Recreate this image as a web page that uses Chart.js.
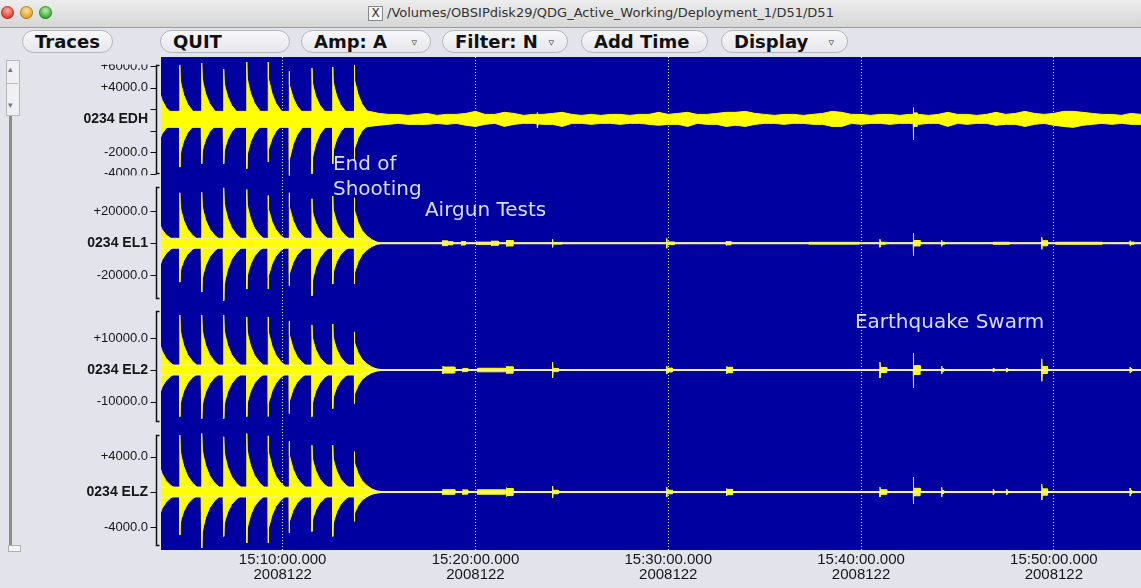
<!DOCTYPE html>
<html>
<head>
<meta charset="utf-8">
<title>D51 traces</title>
<script src="https://cdn.jsdelivr.net/npm/chart.js@4.4.0/dist/chart.umd.min.js"></script>
<style>
  html, body { margin: 0; padding: 0; }
  body { width: 1141px; height: 588px; overflow: hidden; position: relative; background: #e3e3ec; font-family: "DejaVu Sans", sans-serif; }
  #titlebar { position: absolute; left: 0; top: 0; width: 1141px; height: 27px; background: linear-gradient(#ededed, #d6d6d6); border-bottom: 1px solid #9c9c9c; }
  .light { position: absolute; top: 6px; width: 13px; height: 13px; border-radius: 50%; box-shadow: inset 0 0 0 1px rgba(0,0,0,.25); }
  #title { position: absolute; left: 368px; top: 5px; font-size: 13px; color: #333; white-space: nowrap; }
  .xicon { display: inline-block; width: 13px; height: 13px; line-height: 13px; border: 1px solid #888; font-size: 12px; text-align: center; margin-right: 4px; background: #f4f4f4; }
  .btn { position: absolute; top: 30px; height: 23px; box-sizing: border-box; border: 1px solid #b4b4bc; border-radius: 12px; background: linear-gradient(#f8f8fa, #e6e6ec); font-weight: bold; font-size: 18px; line-height: 21px; padding-left: 12px; color: #111; white-space: nowrap; }
  .btn .tri { position: absolute; right: 13px; top: 1px; font-size: 11px; font-weight: normal; color: #333; }
  .sc { position: absolute; }
  #plot { position: absolute; left: 0; top: 55px; }
</style>
</head>
<body>
<div id="titlebar">
  <span class="light" style="left:1px;background:radial-gradient(circle at 50% 35%,#ffaaa0,#dc3a30 70%)"></span>
  <span class="light" style="left:20px;background:radial-gradient(circle at 50% 35%,#ffe0a0,#e0a020 70%)"></span>
  <span class="light" style="left:39px;background:radial-gradient(circle at 50% 35%,#b8f0a8,#2eaa2a 70%)"></span>
  <div id="title"><span class="xicon">X</span>/Volumes/OBSIPdisk29/QDG_Active_Working/Deployment_1/D51/D51</div>
</div>
<div class="btn" style="left:22px;width:91px">Traces</div>
<div class="btn" style="left:160px;width:130px">QUIT</div>
<div class="btn" style="left:301px;width:130px">Amp: A<span class="tri">▿</span></div>
<div class="btn" style="left:442px;width:126px">Filter: N<span class="tri">▿</span></div>
<div class="btn" style="left:581px;width:127px">Add Time</div>
<div class="btn" style="left:721px;width:127px">Display<span class="tri">▿</span></div>

<div class="sc" style="left:6px;top:60px;width:12px;height:54px;border:1px solid #b8b8c0;background:#f0f0f4"></div>
<div class="sc" style="left:6px;top:83px;width:12px;height:1px;background:#b8b8c0"></div>
<div class="sc" style="left:8px;top:64px;font-size:9px;color:#777">▴</div>
<div class="sc" style="left:8px;top:100px;font-size:9px;color:#777">▾</div>
<div class="sc" style="left:9px;top:116px;width:3px;height:430px;background:#8c8c8c"></div>
<div class="sc" style="left:8px;top:545px;width:11px;height:5px;background:#f4f4f4;border:1px solid #b0b0b0"></div>

<canvas id="plot" width="1141" height="533"></canvas>

<script>
// ---- data (time = minutes after 15:00, 2008122)
const traceNames = ["0234 EDH", "0234 EL1", "0234 EL2", "0234 ELZ"];
const timeTicks = [10, 20, 30, 40, 50];
const timeTickLabels = ["15:10:00.000", "15:20:00.000", "15:30:00.000", "15:40:00.000", "15:50:00.000"];
const dayLabel = "2008122";

// y ticks per trace (labels as printed)
const tickValues = [[6000, 4000, 2000, 0, -2000, -4000], [20000, 0, -20000], [10000, 0, -10000], [4000, 0, -4000]];
const tickText = [["+6000.0", "+4000.0", "", "", "-2000.0", "-4000.0"], ["+20000.0", "", "-20000.0"], ["+10000.0", "", "-10000.0"], ["+4000.0", "", "-4000.0"]];
const labelValues = [1050, 0, 0, 0];     // where the channel name sits
const traceCenter = [1050, 0, 0, 0];     // trace baseline (counts)

// airgun shots (first one is just left of the window)
const shotTimes = [3.55, 4.67, 5.81, 6.95, 8.14, 9.25, 10.34, 11.52, 12.60, 13.72];
const edhShotHigh = [5000, 6085, 6270, 5710, 6366, 6366, 5520, 5800, 5900, 6085];
const edhShotLow  = [-1900, -3370, -3050, -3050, -3520, -2900, -4150, -3990, -3050, -2740];
const el1ShotHigh = [19000, 31690, 32060, 34810, 33750, 30000, 31690, 27940, 29560, 28560];
const el1ShotLow  = [-23000, -24375, -30625, -36060, -28750, -28750, -26690, -32940, -25625, -25625];
const el2ShotHigh = [13200, 17280, 17280, 17280, 16660, 16660, 15410, 14160, 14470, 11970];
const el2ShotLow  = [-11800, -14600, -15220, -15220, -14600, -14600, -13660, -14600, -12100, -10530];
const elzShotHigh = [4600, 6435, 6627, 6255, 6627, 6368, 5759, 5308, 5308, 4564];
const elzShotLow  = [-4100, -4835, -6334, -5015, -5770, -5770, -4643, -4452, -5015, -3325];
// shape of one shot: minutes after the shot, fraction of the peak
const decayOffsets = [0, 0.025, 0.08, 0.2, 0.4, 0.65, 0.9, 1.1];
const decayRatios  = [1, 0.72, 0.62, 0.45, 0.28, 0.16, 0.08, 0.04];

// background noise half-width (counts)
const edhNoiseTimes = [3.69, 13.9, 14.0, 14.5, 15.0, 15.5, 16.0, 16.5, 17.0, 17.5, 18.0, 18.5, 19.0, 19.5, 20.0, 20.5, 21.0, 21.5, 22.0, 22.5, 23.0, 23.5, 24.0, 24.5, 25.0, 25.5, 26.0, 26.5, 27.0, 27.5, 28.0, 28.5, 29.0, 29.5, 30.0, 30.5, 31.0, 31.5, 32.0, 32.5, 33.0, 33.5, 34.0, 34.5, 35.0, 35.5, 36.0, 36.5, 37.0, 37.5, 38.0, 38.5, 39.0, 39.5, 40.0, 40.5, 41.0, 41.5, 42.0, 42.5, 43.0, 43.5, 44.0, 44.5, 45.0, 45.5, 46.0, 46.5, 47.0, 47.5, 48.0, 48.5, 49.0, 49.5, 50.0, 50.5, 51.0, 51.5, 52.0, 52.5, 53.0, 53.5, 54.0, 54.52];
const edhNoiseHigh = [740, 740, 830, 740, 550, 460, 460, 370, 460, 550, 370, 460, 460, 550, 740, 460, 460, 650, 550, 370, 460, 460, 550, 650, 460, 370, 460, 370, 460, 460, 370, 460, 460, 650, 460, 550, 650, 460, 460, 550, 650, 650, 740, 550, 460, 370, 460, 460, 370, 460, 550, 740, 650, 460, 460, 370, 460, 460, 370, 460, 460, 370, 460, 650, 460, 460, 370, 460, 650, 460, 550, 740, 550, 460, 550, 740, 740, 650, 550, 460, 460, 370, 550, 460];
const edhNoiseLow  = [740, 740, 830, 650, 550, 460, 370, 460, 460, 460, 370, 460, 370, 550, 650, 460, 370, 650, 460, 370, 370, 460, 460, 650, 370, 370, 460, 370, 370, 460, 370, 370, 460, 550, 460, 460, 650, 370, 460, 460, 650, 550, 650, 460, 370, 370, 460, 370, 370, 460, 460, 650, 650, 370, 460, 370, 370, 460, 370, 370, 460, 370, 370, 650, 370, 460, 370, 370, 550, 460, 460, 650, 460, 370, 550, 650, 740, 550, 460, 370, 460, 370, 460, 460];
const elNoiseTimes = [3.69, 13.9, 14.5, 15.1, 54.52];
const el1Noise = [3100, 3100, 1300, 320, 320];
const el2Noise = [1560, 1560, 650, 160, 160];
const elzNoise = [560, 560, 240, 60, 60];

// small events: [time, peak high, peak low, duration, tail high, tail low]
const edhEvents = [[23.2, 1700, 250, 0.05, 1500, 500], [42.71, 2150, -850, 0.2, 1650, 400]];
const el1Events = [[18.28, 1700, -1700, 0.28, 1500, -1500], [18.62, 1100, -1100, 0.2, 1000, -1000], [19.28, 1250, -1250, 0.2, 1100, -1100], [20.05, 1000, -1000, 0.75, 700, -700], [20.84, 1500, -1500, 0.35, 1300, -1300], [21.6, 2000, -2000, 0.35, 1700, -1700], [24.0, 2500, -2500, 0.5, 500, -500], [29.92, 3100, -3100, 0.4, 800, -800], [33.0, 1400, -1400, 0.25, 1000, -1000], [37.3, 550, -550, 2.6, 550, -550], [40.98, 2500, -2500, 0.3, 600, -600], [42.71, 6250, -7900, 0.35, 1700, -1700], [44.18, 1900, -1900, 0.15, 600, -600], [46.85, 700, -700, 0.85, 600, -600], [49.37, 3750, -3750, 0.3, 1600, -1600], [50.1, 600, -600, 2.4, 600, -600], [53.95, 1500, -1500, 0.2, 700, -700]];
const el2Events = [[18.31, 1250, -1250, 0.62, 950, -950], [19.35, 650, -650, 0.25, 500, -500], [20.1, 650, -650, 1.45, 550, -550], [21.6, 1250, -1250, 0.35, 1000, -1000], [24.0, 2500, -2500, 0.3, 500, -500], [29.92, 1250, -1250, 0.3, 600, -600], [33.03, 1150, -1150, 0.3, 850, -850], [40.98, 2500, -2500, 0.35, 800, -800], [42.71, 5300, -5600, 0.35, 1400, -1400], [44.18, 1250, -1250, 0.1, 450, -450], [46.85, 650, -650, 0.05, 450, -450], [47.55, 650, -650, 0.05, 450, -450], [49.37, 3500, -3500, 0.3, 1100, -1100], [53.95, 900, -900, 0.1, 450, -450]];
const elzEvents = [[18.31, 340, -340, 0.62, 260, -260], [19.35, 300, -300, 0.25, 240, -240], [20.1, 300, -300, 1.45, 250, -250], [21.6, 500, -500, 0.35, 400, -400], [24.0, 680, -680, 0.3, 200, -200], [29.92, 560, -560, 0.3, 200, -200], [33.03, 400, -400, 0.3, 300, -300], [40.98, 560, -560, 0.35, 260, -260], [42.71, 1690, -1350, 0.35, 420, -420], [44.18, 560, -560, 0.1, 180, -180], [46.85, 340, -340, 0.05, 180, -180], [47.55, 340, -340, 0.05, 180, -180], [49.37, 900, -900, 0.3, 360, -360], [53.95, 450, -450, 0.1, 180, -180]];

// notes written on the record: [text, time, trace, counts]
const notes = [["End of", 12.61, 0, -3140], ["Shooting", 12.61, 1, 33750], ["Airgun Tests", 17.38, 1, 20600], ["Earthquake Swarm", 39.68, 2, 14780]];

// ---- layout of the stacked trace panels
const timeWindow = [3.69, 54.52];
const axisMin = [-4569, -40310, -18344, -6559];
const axisMax = [6830, 39690, 19625, 7190];
const panelWeight = [123.5, 128, 121.5, 122];
const bracketTop = [6090, 35600, 18625, 6435];
const bracketBottom = [-3900, -34560, -16060, -5960];

const YELLOW = "#ffff00", PALE = "#f2f2a6", BLUE = "#0000a0", PANEL = "#e3e3ec";
Chart.defaults.font.family = "'Liberation Sans', Arial, sans-serif";

function noiseLine(times, amps, c, sign) {
  return times.map((t, i) => ({x: t, y: c + sign * amps[i]}));
}

function shotEnvelope(peaks, c) {
  const pts = [];
  shotTimes.forEach((t0, k) => {
    const next = k + 1 < shotTimes.length ? shotTimes[k + 1] : Infinity;
    pts.push({x: t0 - 0.003, y: c});
    decayOffsets.forEach((off, j) => {
      if (t0 + off < next - 0.008) pts.push({x: t0 + off, y: c + (peaks[k] - c) * decayRatios[j]});
    });
    pts.push({x: Math.min(t0 + 1.12, next - 0.005), y: c});
  });
  return pts;
}

function eventEnvelope(events, c, side) {
  const pts = [{x: timeWindow[0], y: c}];
  events.forEach(([t, hi, lo, len, tHi, tLo]) => {
    const peak = side > 0 ? hi : lo, tail = side > 0 ? tHi : tLo;
    pts.push({x: t - 0.004, y: c}, {x: t, y: peak}, {x: t + 0.025, y: tail},
             {x: t + len, y: tail}, {x: t + len + 0.004, y: c});
  });
  pts.push({x: timeWindow[1], y: c});
  return pts;
}

function traceSets(i, noiseTimes, noiseHigh, noiseLow, highs, lows, events) {
  const c = traceCenter[i];
  const base = {yAxisID: "y" + i, borderColor: YELLOW, backgroundColor: YELLOW, borderWidth: 1,
                pointRadius: 0, tension: 0, fill: {value: c}};
  const quiet = i > 0 ? PALE : YELLOW;   // the quiet channels show a thin pale line
  return [
    {...base, borderColor: quiet, data: noiseLine(noiseTimes, noiseHigh, c, 1)},
    {...base, borderColor: quiet, data: noiseLine(noiseTimes, noiseLow, c, -1)},
    {...base, data: shotEnvelope(highs, c)},
    {...base, data: shotEnvelope(lows, c)},
    {...base, data: eventEnvelope(events, c, 1)},
    {...base, data: eventEnvelope(events, c, -1)}
  ];
}

const datasets = [].concat(
  traceSets(0, edhNoiseTimes, edhNoiseHigh, edhNoiseLow, edhShotHigh, edhShotLow, edhEvents),
  traceSets(1, elNoiseTimes, el1Noise, el1Noise, el1ShotHigh, el1ShotLow, el1Events),
  traceSets(2, elNoiseTimes, el2Noise, el2Noise, el2ShotHigh, el2ShotLow, el2Events),
  traceSets(3, elNoiseTimes, elzNoise, elzNoise, elzShotHigh, elzShotLow, elzEvents)
);

function traceAxis(i) {
  return {
    type: "linear", position: "left", stack: "traces", stackWeight: panelWeight[i], weight: 4 - i,
    min: axisMin[i], max: axisMax[i], bounds: "data",
    grid: {display: false, drawTicks: false}, border: {display: false},
    afterBuildTicks: s => {
      const vals = tickValues[i].concat(tickValues[i].includes(labelValues[i]) ? [] : [labelValues[i]]);
      s.ticks = vals.sort((a, b) => a - b).map(v => ({value: v}));
    },
    afterFit: s => { s.width = 161; s.paddingTop = 0; s.paddingBottom = 0; },
    ticks: {
      autoSkip: false, padding: 13, color: "#161616",
      font: ctx => (ctx.tick && ctx.tick.value === labelValues[i])
        ? {size: 14, weight: "bold"} : {size: 13},
      callback: v => v === labelValues[i] ? traceNames[i] : tickText[i][tickValues[i].indexOf(v)]
    }
  };
}

// blue record, bracket axes and the hand notes
const seismoFrame = {
  id: "seismoFrame",
  beforeDraw(chart) {
    const {ctx, chartArea: a} = chart;
    ctx.save();
    ctx.fillStyle = BLUE;
    ctx.fillRect(a.left, a.top, a.right - a.left, a.bottom - a.top);
    ctx.restore();
  },
  afterDraw(chart) {
    const {ctx, chartArea: a} = chart;
    ctx.save();
    // the EDH panel cuts its outer labels at the bracket ends
    const s0 = chart.scales.y0;
    const yTop = s0.getPixelForValue(tickValues[0][0]);
    const yBot = s0.getPixelForValue(tickValues[0][tickValues[0].length - 1]);
    ctx.fillStyle = PANEL;
    ctx.fillRect(60, 0, a.left - 12 - 60, yTop - 1.5);
    ctx.fillRect(60, yBot + 1.5, a.left - 12 - 60, 6);

    ctx.strokeStyle = "#111";
    for (let i = 0; i < 4; i++) {
      const s = chart.scales["y" + i];
      const bx = a.left - 4.5;
      const t = Math.round(s.getPixelForValue(bracketTop[i])) + 0.5;
      const b = Math.round(s.getPixelForValue(bracketBottom[i])) + 0.5;
      ctx.lineWidth = 1.5;
      ctx.beginPath();
      ctx.moveTo(bx + 3, t); ctx.lineTo(bx, t); ctx.lineTo(bx, b); ctx.lineTo(bx + 3, b);
      ctx.stroke();
      ctx.lineWidth = 1;
      tickValues[i].forEach(v => {
        const y = Math.round(s.getPixelForValue(v)) + 0.5;
        ctx.beginPath(); ctx.moveTo(bx - 6, y); ctx.lineTo(bx, y); ctx.stroke();
      });
    }
    ctx.fillStyle = "#dcdcf6";
    ctx.font = "20px 'DejaVu Sans', sans-serif";
    ctx.textBaseline = "middle";
    notes.forEach(([text, t, i, v]) => {
      ctx.fillText(text, chart.scales.x.getPixelForValue(t), chart.scales["y" + i].getPixelForValue(v));
    });
    ctx.restore();
  }
};

const scales = {
  x: {
    type: "linear", position: "bottom", min: timeWindow[0], max: timeWindow[1], bounds: "data", z: 1,
    grid: {color: "#e8e8ff", lineWidth: 1, drawTicks: false},
    border: {display: false, dash: [1, 2]},
    afterBuildTicks: s => { s.ticks = timeTicks.map(v => ({value: v})); },
    ticks: {
      autoSkip: false, maxRotation: 0, padding: 2, color: "#161616",
      font: {size: 15, lineHeight: 1},
      callback: v => [timeTickLabels[timeTicks.indexOf(v)], dayLabel]
    }
  }
};
for (let i = 0; i < 4; i++) scales["y" + i] = traceAxis(i);

new Chart(document.getElementById("plot").getContext("2d"), {
  type: "line",
  data: {datasets},
  options: {
    responsive: false, animation: false, devicePixelRatio: 1,
    layout: {padding: {top: 2, bottom: 4, left: 0, right: 0}},
    plugins: {legend: {display: false}, tooltip: {enabled: false}},
    scales
  },
  plugins: [seismoFrame]
});
</script>
</body>
</html>
